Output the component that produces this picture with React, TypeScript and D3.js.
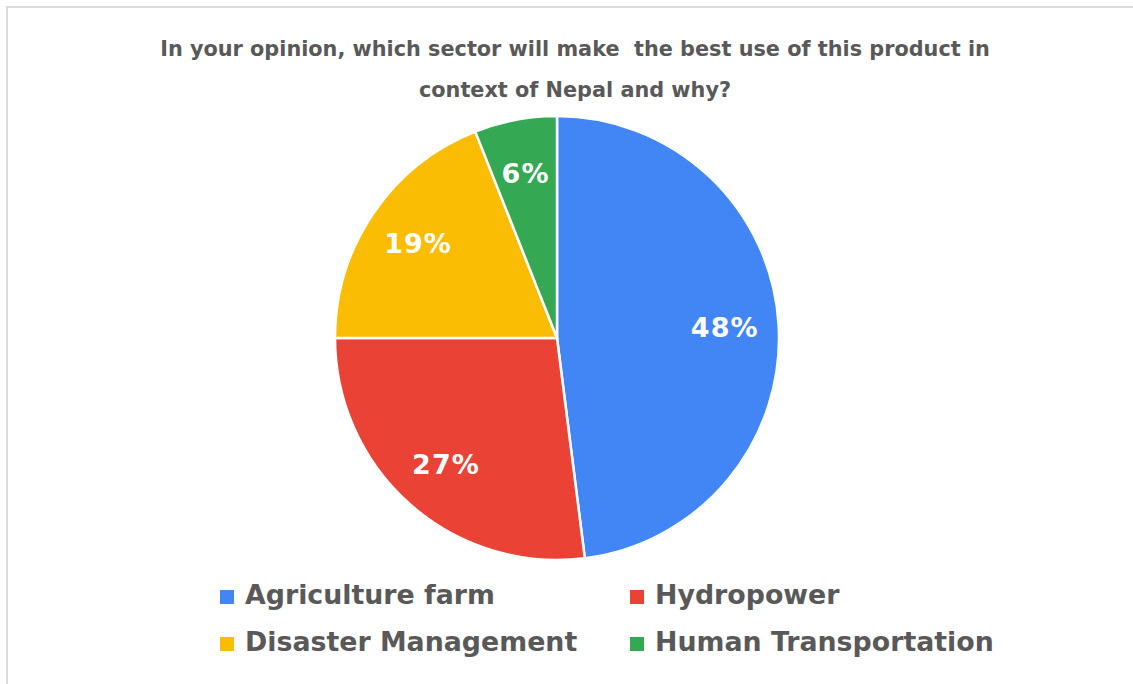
import React from "react";
import * as d3 from "d3";

const categories = ["Agriculture farm", "Hydropower", "Disaster Management", "Human Transportation"];
const values = [48, 27, 19, 6];
const colors = ["#4285F4", "#EA4335", "#FBBC04", "#34A853"];
const titleLines = [
  "In your opinion, which sector will make\u00a0 the best use of this product in",
  "context of Nepal and why?",
];

const W = 1133;
const H = 684;

export default function App() {
  const cx = 557;
  const cy = 338;
  const r = 222;
  const pie = d3.pie<number>().sort(null).value((d) => d)(values);
  const arc = d3.arc<d3.PieArcDatum<number>>().innerRadius(0).outerRadius(r);
  const labelArc = d3.arc<d3.PieArcDatum<number>>().innerRadius(168).outerRadius(168);
  const total = d3.sum(values);

  const legendX = [218, 628];
  const legendY = [604, 651];

  return (
    <svg
      width={W}
      height={H}
      style={{ position: "absolute", left: 0, top: 0, background: "#fff" }}
      fontFamily="'DejaVu Sans', Verdana, sans-serif"
    >
      <rect x={0} y={0} width={W} height={H} fill="#fff" />
      <line x1={6} y1={7} x2={W} y2={7} stroke="#dcdcdc" strokeWidth={2} />
      <line x1={7} y1={6} x2={7} y2={H} stroke="#dcdcdc" strokeWidth={2} />
      {titleLines.map((t, i) => (
        <text
          key={i}
          x={575}
          y={56 + i * 41}
          textAnchor="middle"
          fontSize={20.8}
          fontWeight="bold"
          fill="#595959"
        >
          {t}
        </text>
      ))}
      <g transform={`translate(${cx},${cy})`}>
        {pie.map((d, i) => (
          <path key={i} d={arc(d) || ""} fill={colors[i]} stroke="#fff" strokeWidth={2.5} />
        ))}
        {pie.map((d, i) => {
          const [x, y] = labelArc.centroid(d);
          return (
            <text
              key={i}
              x={x}
              y={y}
              dy="0.36em"
              textAnchor="middle"
              fontSize={27}
              letterSpacing={1}
              fontWeight="bold"
              fill="#fff"
            >
              {Math.round((values[i] / total) * 100)}%
            </text>
          );
        })}
      </g>
      {categories.map((c, i) => {
        const x = legendX[i % 2];
        const y = legendY[Math.floor(i / 2)];
        return (
          <g key={c}>
            <rect x={x + 2} y={y - 14} width={14} height={14} fill={colors[i]} />
            <text x={x + 27} y={y} fontSize={26.8} fontWeight="bold" fill="#595959">
              {c}
            </text>
          </g>
        );
      })}
    </svg>
  );
}
